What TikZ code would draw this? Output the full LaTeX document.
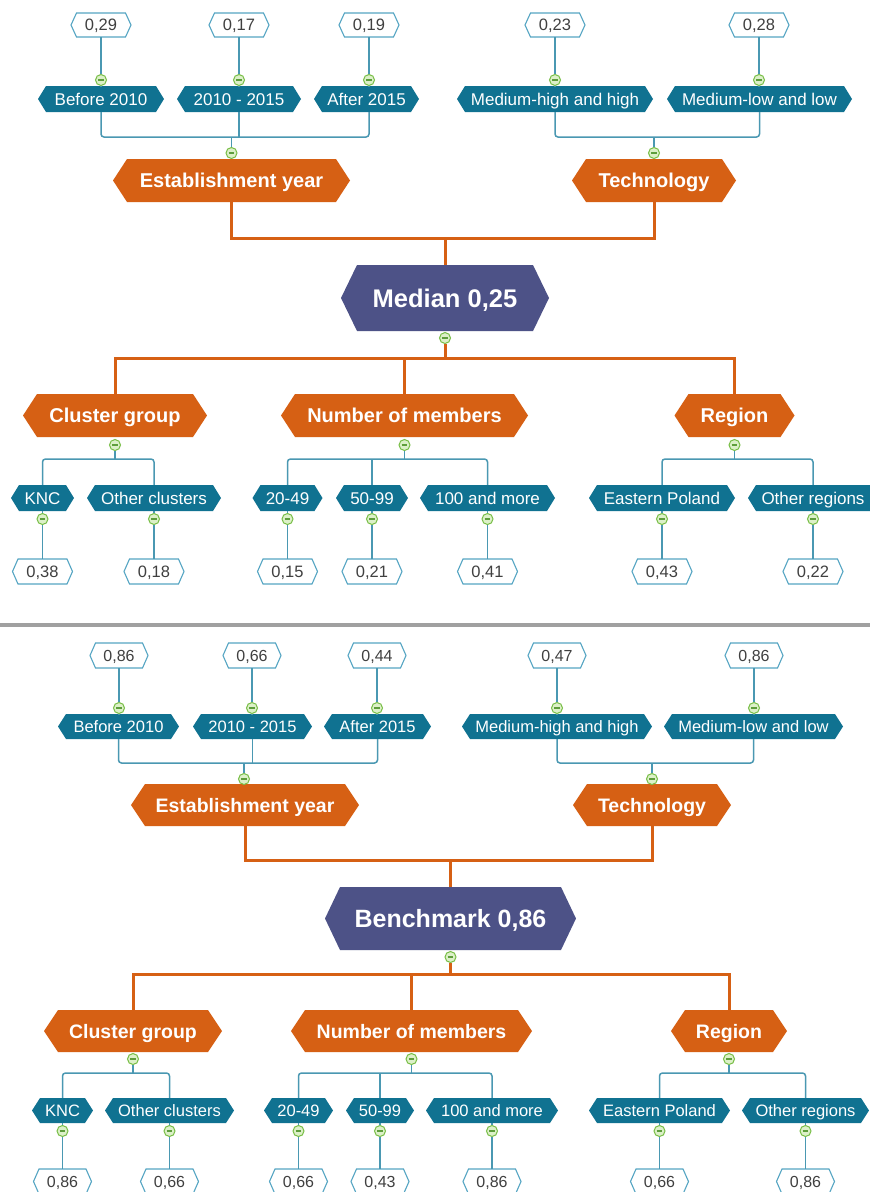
\documentclass[tikz,border=0pt]{standalone}
\usepackage{fontspec}
\setmainfont{Liberation Sans}

\definecolor{catblue}{HTML}{107291}
\definecolor{grporange}{HTML}{D66014}
\definecolor{rootpurple}{HTML}{4D5287}
\definecolor{linkteal}{HTML}{4A98B2}
\definecolor{linkorange}{HTML}{D66014}
\definecolor{valborder}{HTML}{55A5C3}
\definecolor{valink}{HTML}{404040}
\definecolor{togglefill}{HTML}{DCF0C8}
\definecolor{toggleline}{HTML}{78BE46}
\definecolor{toggleminus}{HTML}{5E9E3C}
\definecolor{sepgray}{HTML}{A0A0A0}

\tikzset{
  % hexagonal box outlines, one per kind of box
  val shape/.style={fill=white, draw=valborder, line width=1.1pt},
  cat shape/.style={fill=catblue},
  grp shape/.style={fill=grporange},
  root shape/.style={fill=rootpurple},
  valb shape/.style={val shape},
  catb shape/.style={cat shape},
  grpb shape/.style={grp shape},
  rootb shape/.style={root shape},
  % texts inside the boxes
  val text/.style={text=valink, font=\fontsize{16.5}{18}\selectfont, text height=11.8pt},
  cat text/.style={text=white, font=\fontsize{17}{19}\selectfont, text height=12.2pt},
  grp text/.style={text=white, font=\fontsize{20}{22}\selectfont\bfseries, text height=14.3pt},
  root text/.style={text=white, font=\fontsize{25.5}{28}\selectfont\bfseries, text height=18.3pt},
  valb text/.style={text=valink, font=\fontsize{16}{18}\selectfont, text height=11.5pt},
  catb text/.style={text=white, font=\fontsize{16.5}{18}\selectfont, text height=11.8pt},
  grpb text/.style={text=white, font=\fontsize{19.5}{22}\selectfont\bfseries, text height=14pt},
  rootb text/.style={text=white, font=\fontsize{25}{28}\selectfont\bfseries, text height=17.9pt},
  % connectors
  tline/.style={draw=linkteal, line width=1.5pt, rounded corners=3pt},
  oline/.style={draw=linkorange, line width=3pt},
  % small collapse buttons
  toggle/.style={circle, inner sep=0pt, minimum size=11pt, fill=togglefill,
    draw=toggleline, line width=1pt,
    path picture={\draw[toggleminus, line width=1.4pt]
      ([xshift=-2.8pt]path picture bounding box.center) --
      ([xshift=2.8pt]path picture bounding box.center);}},
}

% #1 kind, #2 name, #3 x, #4 y, #5 width, #6 height, #7 point depth, #8 text
\newcommand\hexnode[8]{%
  \path[#1 shape] (#3,#4) ++({-(#5)/2},0) -- ++({#7},{-(#6)/2})
    -- ++({(#5)-2*(#7)},0) -- ++({#7},{(#6)/2}) -- ++({-(#7)},{(#6)/2})
    -- ++({-(#5)+2*(#7)},0) -- cycle;
  \node[#1 text, inner sep=0pt, minimum width=#5, minimum height=#6,
    text depth=0pt] (#2) at (#3,#4) {#8};
}

\begin{document}
\begin{tikzpicture}[x=1pt, y=-1pt]
\useasboundingbox (0,0) rectangle (870,1192);
\clip (0,0) rectangle (870,1192);
\fill[white] (0,0) rectangle (870,1192);

%================ Median map =================
% values, toggles and categories above the groups
\foreach \i/\x/\bx/\w/\v/\c in {
    1/101/101/126/{0,29}/{Before 2010},
    2/239/239/124/{0,17}/{2010 - 2015},
    3/369/366.5/105/{0,19}/{After 2015},
    4/555/555/196/{0,23}/{Medium-high and high},
    5/759/759.5/185/{0,28}/{Medium-low and low}} {
  \hexnode{val}{tv\i}{\x}{25}{60}{24}{5.5}{\v}
  \hexnode{cat}{tb\i}{\bx}{99}{\w}{26}{8}{\c}
  \node[toggle] (tt\i) at (\x,80) {};
  \draw[tline] (tv\i) -- (tt\i) -- (tt\i |- tb\i.north);
}

\hexnode{grp}{tg1}{231.5}{180.5}{237}{43}{14}{Establishment year}
\hexnode{grp}{tg2}{654}{180.5}{164}{43}{14}{Technology}
\node[toggle] (tj1) at (231.5,153) {};
\node[toggle] (tj2) at (654,153) {};

\coordinate (th1) at (231.5,137);
\coordinate (th2) at (654,137);
\draw[tline] (tb1.south) |- (th1) -| (tt3 |- tb3.south);
\draw[tline] (tb2.south) -- (tb2.south |- th1);
\draw[tline] (th1) -- (tj1);
\draw[tline] (tb4.south) |- (th2) -| (tb5.south);
\draw[tline] (th2) -- (tj2);

% root
\hexnode{root}{troot}{445}{298}{208}{66}{16}{Median 0,25}
\node[toggle] (trt) at (445,338) {};
\coordinate (to1) at (445,238);
\draw[oline] (tg1.south) |- (to1) -| (tg2.south);
\draw[oline] (to1) -- (troot.north);

% groups below the root
\hexnode{grp}{tg3}{115}{415.5}{184}{43}{14}{Cluster group}
\hexnode{grp}{tg4}{404.5}{415.5}{247}{43}{14}{Number of members}
\hexnode{grp}{tg5}{734.5}{415.5}{120}{43}{14}{Region}
\coordinate (to2) at (445,358);
\draw[oline] (trt) -- (to2);
\draw[oline] (tg3.north) |- (to2) -| (tg5.north);
\draw[oline] (tg4.north) -- (tg4.north |- to2);

\node[toggle] (tk3) at (115,445) {};
\node[toggle] (tk4) at (404.5,445) {};
\node[toggle] (tk5) at (734.5,445) {};

\foreach \i/\x/\w/\c/\v in {
    6/42.5/63/{KNC}/{0,38},
    7/154/134/{Other clusters}/{0,18},
    8/287.5/70/{20-49}/{0,15},
    9/372/72/{50-99}/{0,21},
    10/487.5/135/{100 and more}/{0,41},
    11/662/146/{Eastern Poland}/{0,43},
    12/813/130/{Other regions}/{0,22}} {
  \hexnode{cat}{tb\i}{\x}{498}{\w}{26}{8}{\c}
  \hexnode{val}{tv\i}{\x}{571.5}{60}{25}{5.5}{\v}
  \node[toggle] (tt\i) at (\x,519) {};
  \draw[tline] (tb\i) -- (tt\i) -- (tv\i);
}

\coordinate (tl1) at (115,459);
\coordinate (tl2) at (404.5,459);
\coordinate (tl3) at (734.5,459);
\draw[tline] (tb6.north) |- (tl1) -| (tb7.north);
\draw[tline] (tk3) -- (tl1);
\draw[tline] (tb8.north) |- (tl2) -| (tb10.north);
\draw[tline] (tb9.north) -- (tb9.north |- tl2);
\draw[tline] (tk4) -- (tl2);
\draw[tline] (tb11.north) |- (tl3) -| (tb12.north);
\draw[tline] (tk5) -- (tl3);

% divider between the two maps
\fill[sepgray] (0,622.5) rectangle (870,626.5);

%================ Benchmark map =================
\foreach \i/\x/\bx/\w/\v/\c in {
    1/119/118.5/121/{0,86}/{Before 2010},
    2/252/252.5/119/{0,66}/{2010 - 2015},
    3/377/377.5/107/{0,44}/{After 2015},
    4/557/557/190/{0,47}/{Medium-high and high},
    5/754/753.5/179/{0,86}/{Medium-low and low}} {
  \hexnode{valb}{bv\i}{\x}{655.5}{58}{25}{5.5}{\v}
  \hexnode{catb}{bb\i}{\bx}{726.5}{\w}{25}{8}{\c}
  \node[toggle] (bt\i) at (\x,708) {};
  \draw[tline] (bv\i) -- (bt\i) -- (bt\i |- bb\i.north);
}

\hexnode{grpb}{bg1}{245}{805}{228}{42}{14}{Establishment year}
\hexnode{grpb}{bg2}{652}{805}{158}{42}{14}{Technology}
\node[toggle] (bj1) at (244,779) {};
\node[toggle] (bj2) at (652,779) {};

\coordinate (bh1) at (244,763);
\coordinate (bh2) at (652,763);
\draw[tline] (bb1.south) |- (bh1) -| (bb3.south);
\draw[tline] (bb2.south) -- (bb2.south |- bh1);
\draw[tline] (bh1) -- (bj1);
\draw[tline] (bb4.south) |- (bh2) -| (bb5.south);
\draw[tline] (bh2) -- (bj2);

\hexnode{rootb}{broot}{450.5}{918.5}{251}{63}{15}{Benchmark 0,86}
\node[toggle] (brt) at (450.5,957) {};
\coordinate (bo1) at (450.5,860);
\draw[oline] (bg1.south) |- (bo1) -| (bg2.south);
\draw[oline] (bo1) -- (broot.north);

\hexnode{grpb}{bg3}{133}{1031}{178}{42}{14}{Cluster group}
\hexnode{grpb}{bg4}{411.5}{1031}{241}{42}{14}{Number of members}
\hexnode{grpb}{bg5}{729}{1031}{116}{42}{14}{Region}
\coordinate (bo2) at (450.5,974);
\draw[oline] (brt) -- (bo2);
\draw[oline] (bg3.north) |- (bo2) -| (bg5.north);
\draw[oline] (bg4.north) -- (bg4.north |- bo2);

\node[toggle] (bk3) at (133,1059) {};
\node[toggle] (bk4) at (411.5,1059) {};
\node[toggle] (bk5) at (729,1059) {};

\foreach \i/\x/\w/\c/\v in {
    6/62.5/61/{KNC}/{0,86},
    7/169.5/129/{Other clusters}/{0,66},
    8/298.5/69/{20-49}/{0,66},
    9/380/68/{50-99}/{0,43},
    10/492/132/{100 and more}/{0,86},
    11/659.5/141/{Eastern Poland}/{0,66},
    12/805.5/127/{Other regions}/{0,86}} {
  \hexnode{catb}{bb\i}{\x}{1110.5}{\w}{25}{8}{\c}
  \hexnode{valb}{bv\i}{\x}{1181.5}{58}{25}{5.5}{\v}
  \node[toggle] (bt\i) at (\x,1131) {};
  \draw[tline] (bb\i) -- (bt\i) -- (bv\i);
}

\coordinate (bl1) at (133,1073);
\coordinate (bl2) at (411.5,1073);
\coordinate (bl3) at (729,1073);
\draw[tline] (bb6.north) |- (bl1) -| (bb7.north);
\draw[tline] (bk3) -- (bl1);
\draw[tline] (bb8.north) |- (bl2) -| (bb10.north);
\draw[tline] (bb9.north) -- (bb9.north |- bl2);
\draw[tline] (bk4) -- (bl2);
\draw[tline] (bb11.north) |- (bl3) -| (bb12.north);
\draw[tline] (bk5) -- (bl3);
\end{tikzpicture}
\end{document}
